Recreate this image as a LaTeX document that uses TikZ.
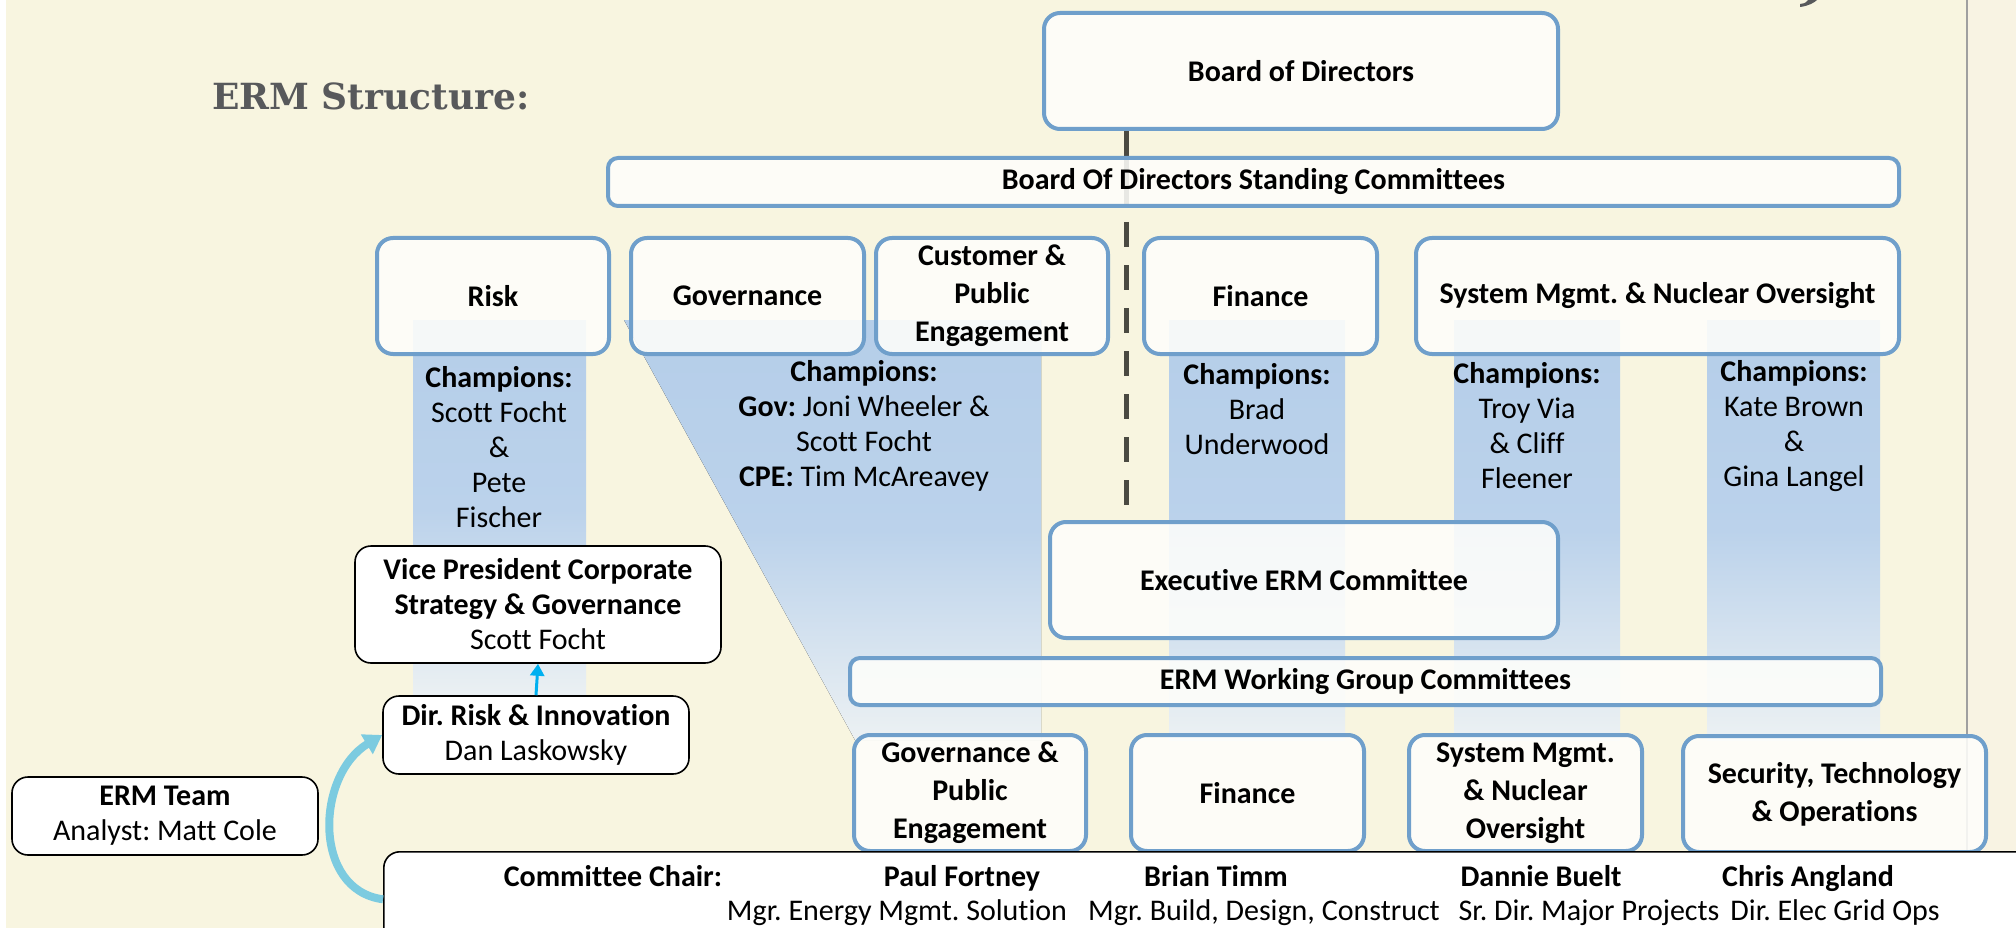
\documentclass[tikz,border=0pt]{standalone}
\usepackage{fontspec}
\setmainfont[Ligatures=NoCommon]{Carlito}
\newfontfamily\slabfont{DejaVu Serif}
\usetikzlibrary{calc}
\usetikzlibrary{arrows.meta}
\usetikzlibrary{backgrounds}

\definecolor{cream}{HTML}{F8F5E0}
\definecolor{creamright}{HTML}{F8F3E3}
\definecolor{boxblue}{HTML}{6F9FCB}
\definecolor{boxfill}{HTML}{FEFEFB}
\definecolor{bandtop}{HTML}{B5CEE9}
\definecolor{bandmid}{HTML}{BBD2EB}
\definecolor{bandbot}{HTML}{ECF1F3}
\definecolor{spinegray}{HTML}{4B4A42}
\definecolor{titlegray}{HTML}{58595B}
\definecolor{arrowcyan}{HTML}{00B0F0}
\definecolor{curvecyan}{HTML}{7CCBE0}
\definecolor{edgegray}{HTML}{A0A0A0}

\newcommand{\bxfont}{\fontsize{30}{38}\selectfont\bfseries}
\newcommand{\chfont}{\fontsize{30}{35}\selectfont}

\tikzset{
  bluebox/.style={draw=boxblue, line width=4pt, rounded corners=16pt, fill=boxfill,
    fill opacity=0.88, text opacity=1, align=center, inner sep=0pt, font=\bxfont},
  bluebar/.style={bluebox, rounded corners=10pt},
  blackbox/.style={draw=black, line width=1.6pt, rounded corners=16pt, fill=white,
    align=center, inner sep=0pt, font=\chfont},
  band/.style={top color=bandtop, bottom color=bandbot, middle color=bandmid},
  champ/.style={align=center, font=\chfont, inner sep=0pt},
  chairtxt/.style={font=\chfont, inner sep=0pt, anchor=base},
  spine/.style={spinegray, line width=5pt},
}

\begin{document}
\frenchspacing
\begin{tikzpicture}[x=1pt,y=-1pt]%
    \useasboundingbox (0,0) rectangle (2016,928);

    \node[font={\slabfont\fontsize{36}{40}\selectfont\bfseries}, text=titlegray, anchor=west, inner sep=0pt] (title) at (212,96) {ERM Structure:};
    \fill[titlegray] (1800,7) .. controls (1808,6) and (1814,3) .. (1817,0) -- (1808,0) .. controls (1806,3) and (1803,4) .. (1800,4) -- cycle;

    \node[bluebox, minimum width=514, minimum height=116] (board) at (1301,71) {Board of Directors};
    \node[bluebar, minimum width=1291, minimum height=48] (stand) at (1253.5,182) {Board Of Directors Standing Committees};

    \node[bluebox, minimum width=232, minimum height=116] (risk) at (493,296) {Risk};
    \node[bluebox, minimum width=233, minimum height=116] (gov) at (747.5,296) {Governance};
    \node[bluebox, minimum width=232, minimum height=116] (cpe) at (992,296) {Customer \&\\Public\\Engagement};
    \node[bluebox, minimum width=233, minimum height=116] (fin) at (1260.5,296) {Finance};
    \node[bluebox, minimum width=483, minimum height=116] (sysm) at (1657.5,296) {System Mgmt. \& Nuclear Oversight};

    \node[champ] (riskch) at (499,447) {\textbf{Champions:}\\Scott Focht\\\&\\Pete\\Fischer};
    \node[champ] (govch) at (864,426) {\textbf{Champions:}\\\textbf{Gov:} Joni Wheeler \&\\Scott Focht\\\textbf{CPE:} Tim McAreavey};
    \node[champ] (finch) at (1257,409) {\textbf{Champions:}\\Brad\\Underwood};
    \node[champ] (sysch1) at (1527,426) {\textbf{Champions:}\\Troy Via\\\& Cliff\\Fleener};
    \node[champ] (sysch2) at (1794,426) {\textbf{Champions:}\\Kate Brown\\\&\\Gina Langel};

    \node[bluebox, minimum width=508, minimum height=116] (exec) at (1304,580) {Executive ERM Committee};
    \node[bluebar, minimum width=1031, minimum height=47] (wg) at (1365.5,681.5) {ERM Working Group Committees};

    \node[bluebox, minimum width=232, minimum height=116] (wgov) at (970,793) {Governance \&\\Public\\Engagement};
    \node[bluebox, minimum width=233, minimum height=116] (wfin) at (1247.5,793) {Finance};
    \node[bluebox, minimum width=233, minimum height=116] (wsys) at (1525.5,793) {System Mgmt.\\\& Nuclear\\Oversight};
    \node[bluebox, minimum width=303, minimum height=116] (wsec) at (1834.5,794) {Security, Technology\\\& Operations};

    \node[blackbox, minimum width=366, minimum height=117] (vp) at (538,604.5) {\textbf{Vice President Corporate}\\\textbf{Strategy \& Governance}\\Scott Focht};
    \node[blackbox, minimum width=306, minimum height=78] (dirrisk) at (536,735) {\textbf{Dir. Risk \& Innovation}\\Dan Laskowsky};
    \node[blackbox, minimum width=306, minimum height=78] (team) at (165,816) {\textbf{ERM Team}\\Analyst: Matt Cole};

    \node[blackbox, minimum width=1700, minimum height=95, anchor=north west] (chair) at (383,851) {};
    \node[chairtxt, font=\chfont\bfseries] (chairlbl) at (613,886) {Committee Chair:};
    \node[chairtxt, font=\chfont\bfseries] (name1) at (962,886) {Paul Fortney};
    \node[chairtxt, font=\chfont\bfseries] (name2) at (1216,886) {Brian Timm};
    \node[chairtxt, font=\chfont\bfseries] (name3) at (1541,886) {Dannie Buelt};
    \node[chairtxt, font=\chfont\bfseries] (name4) at (1808,886) {Chris Angland};
    \node[chairtxt] (job1) at (897,920) {Mgr. Energy Mgmt. Solution};
    \node[chairtxt] (job2) at (1264,920) {Mgr. Build, Design, Construct};
    \node[chairtxt] (job3) at (1589,920) {Sr. Dir. Major Projects};
    \node[chairtxt] (job4) at (1835,920) {Dir. Elec Grid Ops};

    \coordinate (spinex) at (1126,0);

    \draw[arrowcyan, line width=3pt, -{Triangle[length=12pt,width=14pt]}] (dirrisk.north) -- (vp.south);
    \draw[curvecyan, line width=8pt, -{Triangle[length=18pt,width=22pt]}] (chair.west) .. controls (312,890) and (316,775) .. (dirrisk.west);

    \begin{scope}[on background layer]
        \fill[white] (0,0) rectangle (2016,928);
        \fill[cream] (6,0) rectangle (1967,928);
        \fill[creamright] (1967,0) rectangle (2016,928);
        \draw[edgegray, line width=1.2pt] (1967,0) -- (1967,851);
        \fill[band] (413,320) rectangle (586,700);
        \fill[band] (624,320) -- (1041,320) -- (1041,740) -- (855,740) -- cycle;
        \fill[band] (1169,320) rectangle (1345,740);
        \fill[band] (1454,320) rectangle (1620,740);
        \fill[band] (1707,320) rectangle (1880,740);
        \draw[spine] (board.south -| spinex) -- (stand.south -| spinex);
        \draw[spine, dash pattern=on 25pt off 18pt] ([yshift=-14pt]stand.south -| spinex) -- (exec.north -| spinex);
    \end{scope}
\end{tikzpicture}
\end{document}
